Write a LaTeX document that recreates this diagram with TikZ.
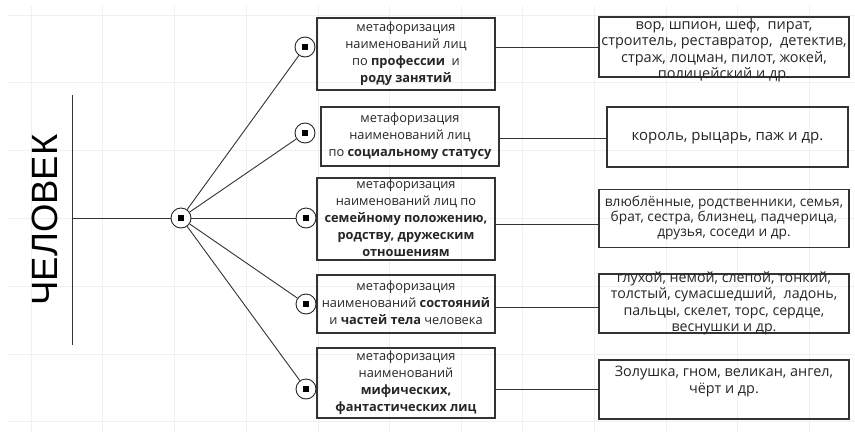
\documentclass[tikz,border=0pt]{standalone}
\usepackage{fontspec}
\setmainfont{Open Sans}
\newfontfamily\bigfont{Liberation Sans}
\usetikzlibrary{calc}
\newcommand\bx[4][0pt]{\vbox to #3{\vss\kern#1\hbox to #2{\hss\begin{tabular}{@{}c@{}}#4\end{tabular}\hss}\kern-#1\vss}}
\begin{document}
\begin{tikzpicture}[x=1pt,y=-1pt,
  gridline/.style={draw=black!6, line width=0.8pt},
  link/.style={draw=black!80, line width=0.9pt},
  boxn/.style={draw=black!80, line width=1.1pt, inner sep=0pt, text=black!85,
    font=\fontsize{12.8}{17}\selectfont},
  rbox/.style={boxn, font=\fontsize{14.2}{16.5}\selectfont},
  dotc/.style={circle, draw=black!85, line width=0.9pt, fill=white,
    minimum size=20pt, inner sep=0pt,
    path picture={\fill[black] ([shift={(-3pt,-3pt)}]path picture bounding box.center) rectangle ++(6pt,6pt);}}
]
\useasboundingbox (0,0) rectangle (855,432);
\fill[white] (0,0) rectangle (855,432);
% background grid
\foreach \gx in {31,102.5,174.5,246.5,318,389,461,522,594,666,737,809}
  \draw[gridline] (\gx,6) -- (\gx,432);
\foreach \gy in {15,82.8,150.6,218.4,286.2,354,421.8}
  \draw[gridline] (8,\gy) -- (855,\gy);

% title
\node[rotate=90, text=black, font=\bigfont\fontsize{36.5}{36.5}\selectfont] (title) at (44.5,220) {ЧЕЛОВЕК};
\coordinate (bt) at (72,95);
\coordinate (bb) at (72,345);
\coordinate (bm) at (72,218);
\draw[link] (bt) -- (bb);

% hub and branch circles
\node[dotc] (hub) at (181,218) {};
\node[dotc] (c1) at (305,47) {};
\node[dotc] (c2) at (305,133) {};
\node[dotc] (c3) at (306,218) {};
\node[dotc] (c4) at (306,304) {};
\node[dotc] (c5) at (306,389) {};
\draw[link] (bm) -- (hub);
\foreach \c in {c1,c2,c3,c4,c5} \draw[link] (hub) -- (\c);

% middle boxes
\node[boxn] (m1) at (406,54) {\bx{178pt}{72pt}{метафоризация\\наименований лиц\\по \textbf{профессии}\ \ и\\\textbf{роду занятий}}};
\node[boxn] (m2) at (410,136.5) {\bx{178pt}{59pt}{метафоризация\\наименований лиц\\по \textbf{социальному статусу}}};
\node[boxn] (m3) at (406,219) {\bx{178pt}{82pt}{метафоризация\\наименований лиц по\\\textbf{семейному положению,}\\\textbf{родству, дружеским}\\\textbf{отношениям}}};
\node[boxn] (m4) at (406,304) {\bx{178pt}{58pt}{метафоризация\\наименований \textbf{состояний}\\и \textbf{частей тела} человека}};
\node[boxn] (m5) at (406,383) {\bx{178pt}{70pt}{метафоризация\\наименований\\\textbf{мифических,}\\\textbf{фантастических лиц}}};

% right boxes
\node[rbox, font=\fontsize{14.5}{16.5}\selectfont] (r1) at (724,47) {\bx[3.5pt]{250pt}{60pt}{вор, шпион, шеф,\ \ пират,\\строитель, реставратор,\ \ детектив,\\страж, лоцман, пилот, жокей,\\полицейский и др.}};
\node[rbox, font=\fontsize{15}{16.5}\selectfont] (r2) at (727.5,137) {\bx{241pt}{60pt}{король, рыцарь, паж и др.}};
\node[rbox, font=\fontsize{13.7}{14.8}\selectfont] (r3) at (724,218.5) {\bx{250pt}{58pt}{влюблённые, родственники, семья,\\брат, сестра, близнец, падчерица,\\друзья, соседи и др.}};
\node[rbox] (r4) at (724,303.5) {\bx{250pt}{59pt}{глухой, немой, слепой, тонкий,\\толстый, сумасшедший,\ \ ладонь,\\пальцы, скелет, торс, сердце,\\веснушки и др.}};
\node[rbox, font=\fontsize{14.4}{16.5}\selectfont] (r5) at (724,389.5) {\bx[-8pt]{250pt}{59pt}{Золушка, гном, великан, ангел,\\чёрт и др.}};

% connectors
\draw[link] (m1.east |- c1) -- (r1.west |- c1);
\draw[link] (m2.east |- 0,138) -- (r2.west |- 0,138);
\draw[link] (m3.east |- 0,224) -- (r3.west |- 0,224);
\draw[link] (m4.east |- 0,307.5) -- (r4.west |- 0,307.5);
\draw[link] (m5.east |- c5) -- (r5.west |- c5);
\end{tikzpicture}
\end{document}
